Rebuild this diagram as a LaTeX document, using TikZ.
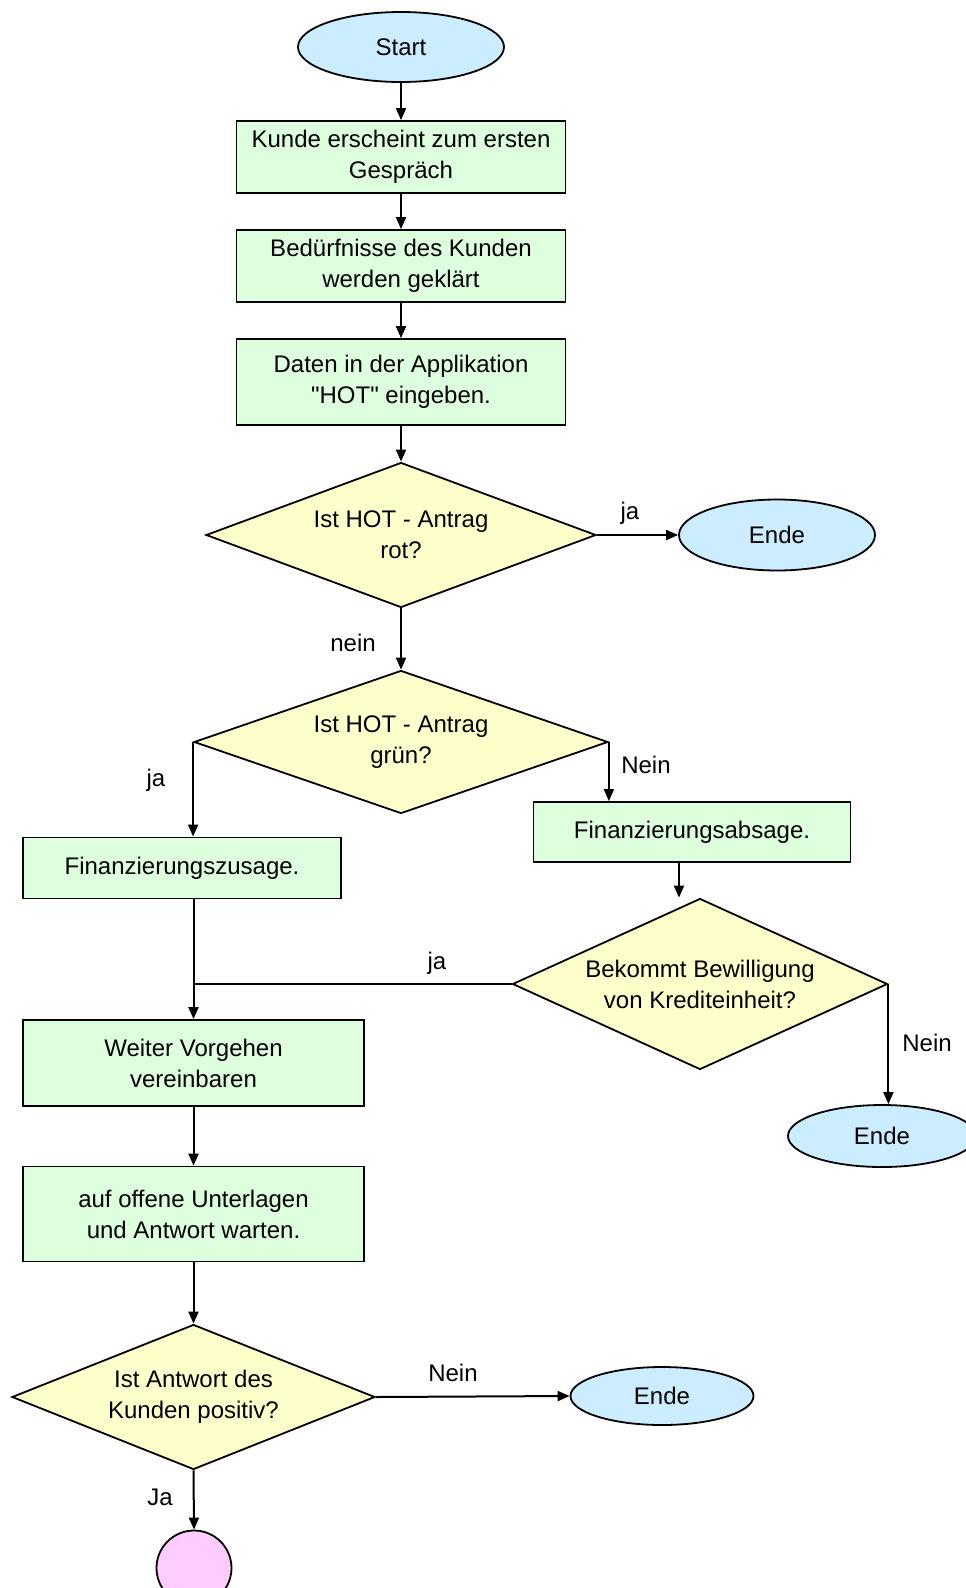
\documentclass[tikz,border=0pt]{standalone}
\usepackage{fontspec}
\setmainfont{Liberation Sans}
\usepackage{tikz}
\usepackage{xcolor}
\usetikzlibrary{shapes.geometric, arrows.meta, positioning, calc}
\definecolor{cEnde}{RGB}{204,236,255}
\definecolor{cSchritt}{RGB}{221,255,221}
\definecolor{cFrage}{RGB}{255,255,204}
\definecolor{cKreis}{RGB}{255,204,255}
\tikzset{
	terminal/.style ={ellipse, draw=black, line width=1.8pt, fill=cEnde, inner sep=0pt, align=center},
	process/.style  ={rectangle, draw=black, line width=1.8pt, fill=cSchritt, inner sep=0pt, align=center},
	decision/.style ={diamond, aspect=2.6, draw=black, line width=1.8pt, fill=cFrage, inner sep=0pt, align=center},
	connector/.style={circle, draw=black, line width=1.8pt, fill=cKreis, minimum size=75pt, inner sep=0pt},
	flowarrow/.style={-{Triangle[length=12pt, width=10pt]}, line width=2pt},
	flowline/.style ={line width=2pt},
	lbl/.style      ={inner sep=0pt},
}

\begin{document}
\begin{tikzpicture}[x=1pt, y=-1pt, font=\fontsize{24}{31}\selectfont]
	\useasboundingbox (0,0) rectangle (966,1588);
	\clip (0,0) rectangle (966,1588);
	% main column
	\node[terminal, minimum width=206pt, minimum height=70pt] (start) at (401,47) {Start};
	\node[process, minimum width=329pt, minimum height=72pt] (kunde) at (401,157) {Kunde erscheint zum ersten\\Gespräch};
	\node[process, minimum width=329pt, minimum height=72pt] (bedarf) at (401,266) {Bedürfnisse des Kunden\\werden geklärt};
	\node[process, minimum width=329pt, minimum height=86pt] (daten) at (401,382) {Daten in der Applikation\\\textquotedbl HOT\textquotedbl{} eingeben.};
	\node[decision, minimum width=390pt, minimum height=145pt] (rot) at (401,535) {Ist HOT - Antrag\\rot?};
	\node[terminal, minimum width=196pt, minimum height=71pt] (ende1) at (777,535) {Ende};
	\node[decision, minimum width=414pt, minimum height=143pt] (gruen) at (401,742) {Ist HOT - Antrag\\grün?};
	% branches
	\node[process, minimum width=318pt, minimum height=61pt] (zusage) at (182,868) {Finanzierungszusage.};
	\node[process, minimum width=317pt, minimum height=60pt] (absage) at (692,832) {Finanzierungsabsage.};
	\node[decision, minimum width=375pt, minimum height=171pt] (kredit) at (700,984) {Bekommt Bewilligung\\von Krediteinheit?};
	\node[terminal, minimum width=188pt, minimum height=62pt] (ende2) at (882,1136) {Ende};
	\node[process, minimum width=341pt, minimum height=86pt] (weiter) at (193.5,1063) {Weiter Vorgehen\\vereinbaren};
	\node[process, minimum width=341pt, minimum height=95pt] (warten) at (193.5,1214) {auf offene Unterlagen\\und Antwort warten.};
	\node[decision, minimum width=363pt, minimum height=145pt] (antwort) at (193.5,1397) {Ist Antwort des\\Kunden positiv?};
	\node[terminal, minimum width=183pt, minimum height=58pt] (ende3) at (662,1396) {Ende};
	\node[connector] (weiterseite) at (194,1568) {};
	% connectors
	\draw[flowarrow] (start) -- (kunde);
	\draw[flowarrow] (kunde) -- (bedarf);
	\draw[flowarrow] (bedarf) -- (daten);
	\draw[flowarrow] (daten) -- (rot);
	\draw[flowarrow] (rot.east) -- (ende1.west);
	\draw[flowarrow] (rot.south) -- (gruen.north);
	\draw[flowarrow] (gruen.west) -- (gruen.west |- zusage.north);
	\draw[flowarrow] (gruen.east) -- (gruen.east |- absage.north);
	\draw[flowarrow] ([xshift=-13pt]absage.south) -- ([xshift=-13pt]absage.south |- kredit.north);
	\draw[flowarrow] (zusage.south -| weiter.north) -- (weiter.north);
	\draw[flowline] (kredit.west) -- (kredit.west -| weiter.north);
	\draw[flowarrow] (kredit.east) -- (kredit.east |- ende2.north);
	\draw[flowarrow] (weiter) -- (warten);
	\draw[flowarrow] (warten) -- (antwort);
	\draw[flowarrow] (antwort.east) -- (ende3.west);
	\draw[flowarrow] (antwort.south) -- (weiterseite.north);
	% labels
	\node[lbl] (ja1) at (630,513) {ja};
	\node[lbl] (nein1) at (353,643) {nein};
	\node[lbl] (ja2) at (156,780) {ja};
	\node[lbl] (nein2) at (646,765) {Nein};
	\node[lbl] (ja3) at (437,963) {ja};
	\node[lbl] (nein3) at (927,1043) {Nein};
	\node[lbl] (nein4) at (453,1373) {Nein};
	\node[lbl] (ja4) at (160,1497) {Ja};
\end{tikzpicture}
\end{document}
